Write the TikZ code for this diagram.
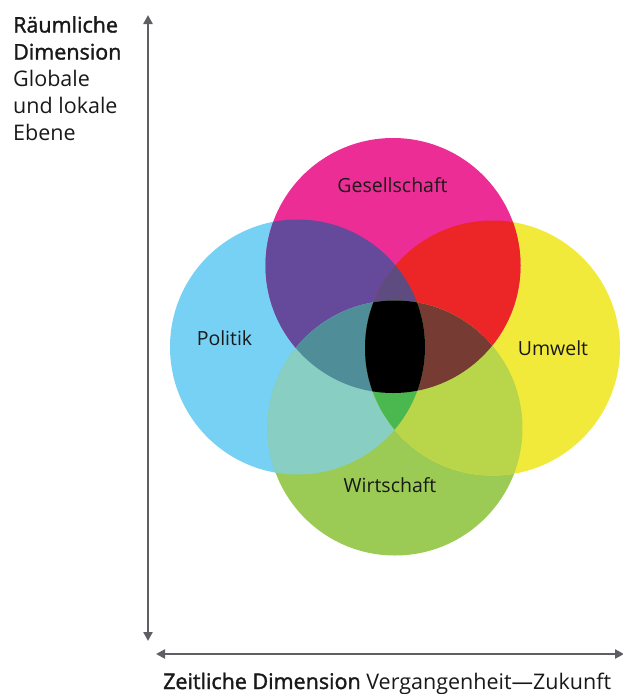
\documentclass[tikz,border=0pt]{standalone}
\usepackage{fontspec}
\setmainfont{Open Sans}[BoldFont={Open Sans},BoldFeatures={FakeBold=1.6}]
\usetikzlibrary{positioning,arrows.meta}
\definecolor{axisgray}{HTML}{5E5F62}
\definecolor{politik}{HTML}{76D1F5}
\definecolor{gesell}{HTML}{EC2D95}
\definecolor{umwelt}{HTML}{F1EA3A}
\definecolor{wirtsch}{HTML}{9BCB55}
\definecolor{pg}{HTML}{654A9B}
\definecolor{gu}{HTML}{EC2527}
\definecolor{uw}{HTML}{B9D64B}
\definecolor{wp}{HTML}{88CEC3}
\definecolor{pgw}{HTML}{4F8D98}
\definecolor{guw}{HTML}{763B32}
\definecolor{pgu}{HTML}{5E4C80}
\definecolor{puw}{HTML}{4BB84F}
\tikzset{axes/.style={line width=2.6pt,draw=axisgray,{Triangle[length=9pt,width=9pt]}-{Triangle[length=9pt,width=9pt]}}}
\tikzset{circlabel/.style={font=\fontsize{19.5}{22}\selectfont,anchor=base,text=black!90}}
\tikzset{axislabel/.style={font=\fontsize{21.5}{27}\selectfont,inner sep=0pt,text=black!90}}
\newcommand{\ring}[2]{\fill[#2] (#1) circle [radius=127.5pt];}
\newcommand{\clipring}[1]{\clip (#1) circle [radius=127.5pt];}

\begin{document}
\begin{tikzpicture}[x=1pt,y=-1pt]
  \useasboundingbox (0,0) rectangle (622,694);
  \coordinate (G) at (393,265.5);
  \coordinate (W) at (395,428);
  \coordinate (P) at (297.5,347);
  \coordinate (U) at (492.5,348);
  % single circles
  \ring{P}{politik}
  \ring{W}{wirtsch}
  \ring{U}{umwelt}
  \ring{G}{gesell}
  % pairs
  \begin{scope}\clipring{P}\ring{G}{pg}\ring{W}{wp}\end{scope}
  \begin{scope}\clipring{U}\ring{G}{gu}\ring{W}{uw}\end{scope}
  % triples
  \begin{scope}\clipring{P}\clipring{G}\ring{W}{pgw}\ring{U}{pgu}\end{scope}
  \begin{scope}\clipring{U}\clipring{W}\ring{G}{guw}\ring{P}{puw}\end{scope}
  % all four
  \begin{scope}\clipring{P}\clipring{G}\clipring{U}\ring{W}{black}\end{scope}
  \node[circlabel] (gesellschaft) at (392.5,192) {Gesellschaft};
  \node[circlabel] (politik) at (224.5,345) {Politik};
  \node[circlabel] (umwelt) at (553,355) {Umwelt};
  \node[circlabel] (wirtschaft) at (390,492) {Wirtschaft};
  % axes
  \coordinate (vtop) at (148,15);
  \coordinate (vbot) at (148,641);
  \coordinate (hleft) at (156,654);
  \coordinate (hright) at (624,654);
  \draw[axes] (vbot) -- (vtop);
  \draw[axes] (hleft) -- (hright);
  \node[axislabel,anchor=north west,align=left] (raum) at (13,16)
    {\bfseries Räumliche\\\bfseries Dimension\\Globale\\und lokale\\Ebene};
  \node[axislabel,anchor=base west] (zeit) at (163,689)
    {\bfseries Zeitliche Dimension \mdseries Vergangenheit—Zukunft};
\end{tikzpicture}
\end{document}
